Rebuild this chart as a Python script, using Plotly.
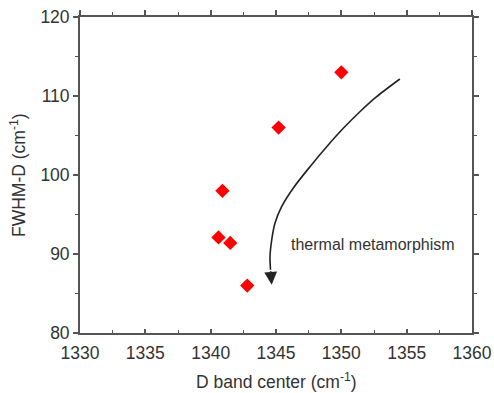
import plotly.graph_objects as go

# data
d_center = [1350.0, 1345.2, 1340.9, 1340.6, 1341.5, 1342.8]
fwhm_d = [113.0, 106.0, 98.0, 92.1, 91.4, 86.0]

# annotation curve (data coordinates)
curve_x = [1354.48, 1352.70, 1351.42, 1350.15, 1348.88, 1347.60, 1346.30,
           1345.43, 1344.92, 1344.67, 1344.54, 1344.58]
curve_y = [112.15, 109.91, 108.01, 105.91, 103.58, 101.05, 98.30,
           95.99, 93.89, 91.77, 89.66, 88.0]
arrow_tip = (1344.67, 86.1)
label_text = "thermal metamorphism"
label_pos = (1352.4, 91.15)

x_range = [1330, 1360]
y_range = [80, 120]
x_ticks = [1330, 1335, 1340, 1345, 1350, 1355, 1360]
y_ticks = [80, 90, 100, 110, 120]
x_title = "D band center (cm<sup>-1</sup>)"
y_title = "FWHM-D (cm<sup>-1</sup>)"

AX = "#555555"
TXT = "#333333"
FONT = "Liberation Sans, Arial, sans-serif"

fig = go.Figure()
fig.add_trace(go.Scatter(
    x=d_center, y=fwhm_d, mode="markers",
    marker=dict(symbol="diamond", color="#ff0000", size=11, line=dict(width=0)),
    showlegend=False, hoverinfo="skip"))
fig.add_trace(go.Scatter(
    x=curve_x, y=curve_y, mode="lines", line=dict(color="#222222", width=1.6, shape="spline", smoothing=0.8),
    showlegend=False, hoverinfo="skip"))
# invisible trace for top axis
fig.add_trace(go.Scatter(x=x_range, y=y_range, xaxis="x2", mode="markers",
                         marker=dict(opacity=0), showlegend=False, hoverinfo="skip"))

fig.add_annotation(x=arrow_tip[0], y=arrow_tip[1], ax=curve_x[-1], ay=curve_y[-1],
                   xref="x", yref="y", axref="x", ayref="y", text="",
                   showarrow=True, arrowhead=2, arrowsize=1.6, arrowwidth=1.6, arrowcolor="#222222")
fig.add_annotation(x=label_pos[0], y=label_pos[1], xref="x", yref="y", text=label_text,
                   showarrow=False, font=dict(family=FONT, size=16, color=TXT))
# axis titles
fig.add_annotation(x=0.5, y=0, xref="paper", yref="paper", yshift=-48, text=x_title,
                   showarrow=False, xanchor="center", yanchor="middle",
                   font=dict(family=FONT, size=17.5, color=TXT))
fig.add_annotation(x=0, y=0.5, xref="paper", yref="paper", xshift=-62, text=y_title,
                   textangle=-90, showarrow=False, xanchor="center", yanchor="middle",
                   font=dict(family=FONT, size=17.5, color=TXT))

fig.update_layout(
    width=494, height=393,
    margin=dict(l=80, r=22, t=17, b=60),
    paper_bgcolor="white", plot_bgcolor="white",
    font=dict(family=FONT, color=TXT),
    xaxis=dict(range=x_range, tickvals=x_ticks, ticks="inside", ticklen=4, tickwidth=1.5,
               tickcolor=AX, showline=True, linecolor=AX, linewidth=1.8, showgrid=False,
               zeroline=False, automargin=False, ticklabelstandoff=3, ticklabeloverflow="allow",
               tickfont=dict(size=17.5, family=FONT, color=TXT),
               minor=dict(ticks="inside", dtick=2.5, ticklen=3, tickwidth=1.2, tickcolor=AX)),
    xaxis2=dict(range=x_range, overlaying="x", side="top", anchor="y", tickvals=x_ticks,
                showticklabels=False, ticks="outside", ticklen=5, tickwidth=1.5, tickcolor=AX,
                showline=True, linecolor=AX, linewidth=1.8, showgrid=False, zeroline=False,
                automargin=False,
                minor=dict(ticks="outside", dtick=2.5, ticklen=3, tickwidth=1.2, tickcolor=AX)),
    yaxis=dict(range=y_range, tickvals=y_ticks, ticks="outside", ticklen=5, tickwidth=1.5,
               tickcolor=AX, showline=True, linecolor=AX, linewidth=1.8, mirror="ticks",
               showgrid=False, zeroline=False, automargin=False, ticklabeloverflow="allow",
               tickfont=dict(size=17.5, family=FONT, color=TXT),
               minor=dict(ticks="outside", dtick=5, ticklen=3, tickwidth=1.2, tickcolor=AX)),
)

fig.write_html("out.html", config={"displayModeBar": False},
               post_script="document.body.style.margin='0';document.body.style.overflow='hidden';")
